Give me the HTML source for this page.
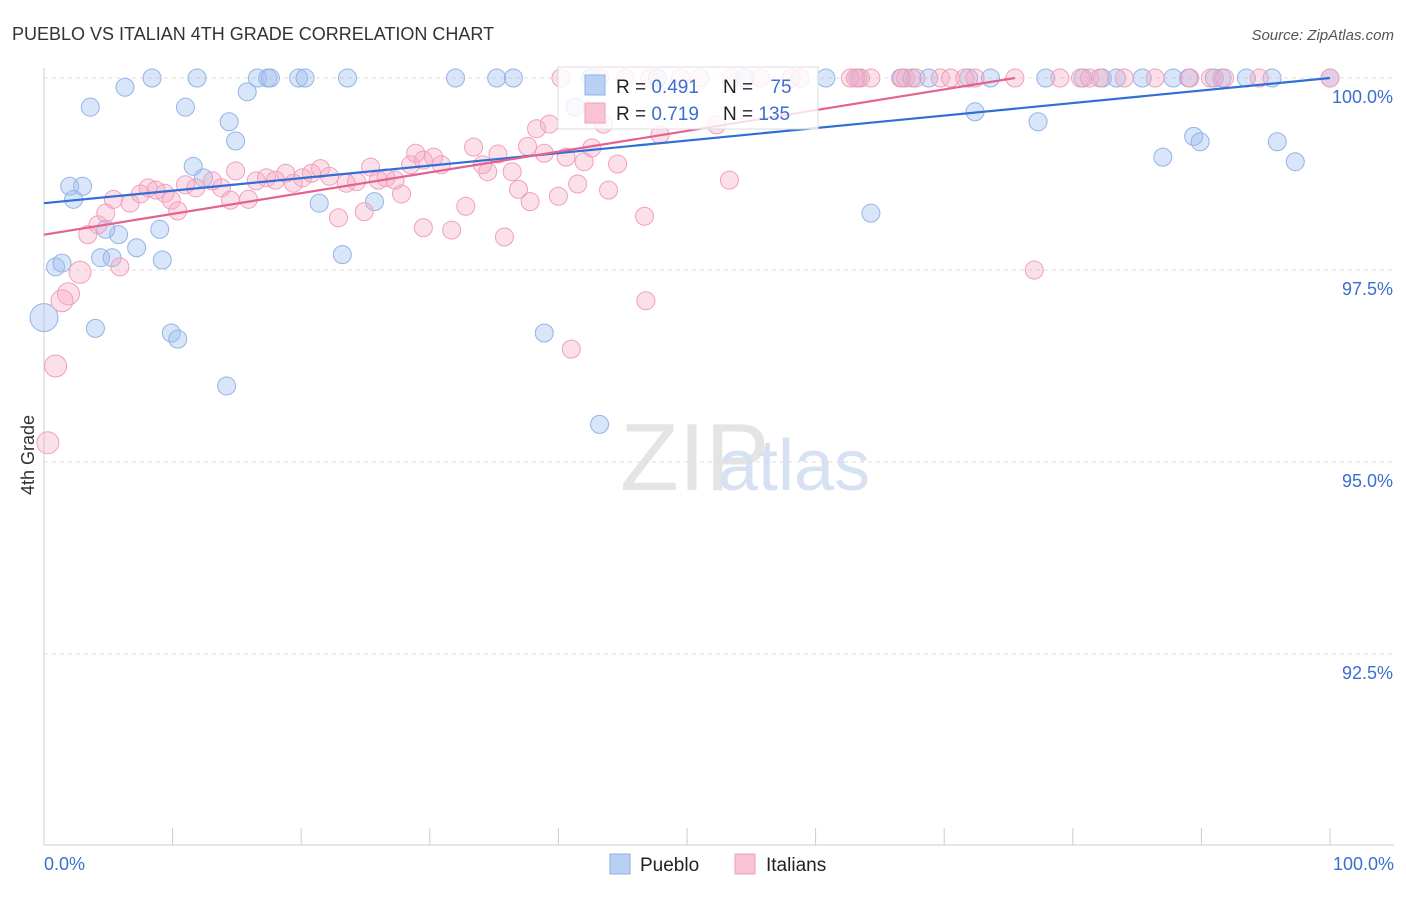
<!DOCTYPE html>
<html><head><meta charset="utf-8"><style>
body{margin:0;background:#fff;font-family:"Liberation Sans",sans-serif}
svg text{font-family:"Liberation Sans",sans-serif}
</style></head><body>
<svg id="c" width="1406" height="892" xmlns="http://www.w3.org/2000/svg">
<text x="12" y="40" font-size="18" fill="#333">PUEBLO VS ITALIAN 4TH GRADE CORRELATION CHART</text>
<text x="1394" y="40" font-size="15" fill="#555" font-style="italic" text-anchor="end">Source: ZipAtlas.com</text>
<text x="620" y="490" font-size="96" fill="#e4e4e4" font-family="Liberation Serif">ZIP</text>
<text x="718" y="490" font-size="72" fill="#d6e2f4">atlas</text>
<text transform="translate(34,455) rotate(-90)" font-size="18" fill="#333" text-anchor="middle">4th Grade</text>
<g id="grid"></g><g id="ticks"></g><g id="pts"></g><g id="lines"></g>
<g>
<rect x="558" y="67" width="260" height="62" fill="#fff" fill-opacity="0.8" stroke="#ddd"/>
<rect x="585" y="75" width="20" height="20" fill="#b8d0f4" stroke="#8fb0e4"/>
<rect x="585" y="103" width="20" height="20" fill="#f9c3d4" stroke="#efa0ba"/>
<text x="616" y="93" font-size="19" fill="#222">R = <tspan fill="#3a6fd0">0.491</tspan></text>
<text x="723" y="93" font-size="19" fill="#222">N = <tspan fill="#3a6fd0" dx="12">75</tspan></text>
<text x="616" y="120" font-size="19" fill="#222">R = <tspan fill="#3a6fd0">0.719</tspan></text>
<text x="723" y="120" font-size="19" fill="#222">N = <tspan fill="#3a6fd0">135</tspan></text>
</g>
<g>
<rect x="610" y="854" width="20" height="20" fill="#b8d0f4" stroke="#8fb0e4"/>
<text x="640" y="871" font-size="19" fill="#222">Pueblo</text>
<rect x="735" y="854" width="20" height="20" fill="#f9c3d4" stroke="#efa0ba"/>
<text x="766" y="871" font-size="19" fill="#222">Italians</text>
</g>
</svg>
<script>
const yTicks=[100,97.5,95,92.5];
const yTickLabels=["100.0%","97.5%","95.0%","92.5%"];
const xTickLabels=["0.0%","100.0%"];
const puebloX=[2.0,2.3,3.0,3.6,6.3,8.4,11.0,11.9,14.4,14.9,15.8,16.6,17.4,17.6,19.8,20.3,23.6,32.0,35.2,36.5,41.3,11.6,12.4,9.0,7.2,5.8,4.8,4.4,5.3,9.2,0.9,1.4,4.0,9.9,10.4,14.2,21.4,23.2,25.7,38.9,43.2,0,42.5,60.8,63.3,66.7,67.5,68.8,71.9,73.6,77.9,80.8,82.3,83.4,85.4,87.8,89.0,91.0,91.6,93.5,95.5,100,72.4,77.3,64.3,87.0,89.4,89.9,95.9,97.3,47.7,54.5];
const puebloY=[98.59,98.42,98.59,99.62,99.88,100,99.62,100,99.43,99.18,99.82,100,100,100,100,100,100,100,100,100,99.62,98.85,98.70,98.03,97.79,97.96,98.03,97.66,97.66,97.63,97.54,97.59,96.74,96.68,96.60,95.99,98.37,97.70,98.39,96.68,95.49,96.88,100,100,100,100,100,100,100,100,100,100,100,100,100,100,100,100,100,100,100,100,99.56,99.43,98.24,98.97,99.24,99.17,99.17,98.91,100,100];
const italX=[40.2,43.2,45.2,47.1,49.5,51,53.4,55.7,58.1,58.8,62.7,63.1,63.5,64.3,66.6,67,67.8,69.7,70.5,71.6,72.4,75.5,79,80.6,81.3,82.1,84,86.4,89.1,90.7,91.8,94.5,100,
0.3,0.9,1.9,1.4,2.8,5.9,3.4,4.2,4.8,5.4,6.7,7.5,8.1,8.7,9.4,9.9,10.4,11.0,11.8,13.1,13.8,14.5,14.9,15.9,16.5,17.3,18.0,18.8,19.4,20.1,20.8,21.5,22.2,22.9,23.5,24.3,24.9,25.4,26.0,26.6,27.3,27.8,28.5,28.9,29.5,30.3,30.9,29.5,31.7,32.8,33.4,34.1,34.5,35.3,36.4,35.8,36.9,37.6,38.3,37.8,38.9,39.3,40.0,40.6,41.0,41.5,42.0,42.6,43.5,43.9,44.6,46.7,46.8,47.9,52.3,53.3,77.0];
const italY=[100,100,100,100,100,100,100,100,100,100,100,100,100,100,100,100,100,100,100,100,100,100,100,100,100,100,100,100,100,100,100,100,100,
95.25,96.25,97.19,97.1,97.47,97.54,97.96,98.09,98.24,98.42,98.37,98.49,98.57,98.54,98.5,98.41,98.27,98.61,98.57,98.66,98.57,98.41,98.79,98.42,98.66,98.7,98.67,98.76,98.63,98.7,98.76,98.82,98.72,98.18,98.63,98.65,98.26,98.84,98.67,98.7,98.67,98.49,98.87,99.02,98.93,98.97,98.87,98.05,98.02,98.33,99.1,98.87,98.78,99.01,98.78,97.93,98.55,99.11,99.34,98.39,99.02,99.4,98.46,98.97,96.47,98.62,98.91,99.09,99.4,98.54,98.88,98.2,97.1,99.26,99.39,98.67,97.5];
const puebloTrend=[98.37,100];   // y at x=0, x=100
const italTrend=[97.96,100,75.5]; // y at x=0, y at end, end x
const sx=v=>44+v*12.86;
const sy=v=>78+(100-v)*76.8;
const NS="http://www.w3.org/2000/svg";
function mk(tag,attrs,parent){const e=document.createElementNS(NS,tag);for(const k in attrs)e.setAttribute(k,attrs[k]);document.getElementById(parent).appendChild(e);return e;}
yTicks.forEach((t,i)=>{
 const l=mk('line',{x1:44,x2:1394,y1:sy(t),y2:sy(t),stroke:'#ddd','stroke-dasharray':'4,4'},'grid');
 
 
 const tx=mk('text',{x:1393,y:sy(t)+25,'font-size':18,fill:'#3a6fd0','text-anchor':'end'},'grid');
 tx.textContent=yTickLabels[i];
 
 
});
const ax=mk('line',{x1:44,x2:44,y1:68,y2:845,stroke:'#ccc'},'ticks');


const bx=mk('line',{x1:44,x2:1394,y1:845,y2:845,stroke:'#ccc'},'ticks');


for(let i=0;i<=10;i++){
 const t=mk('line',{x1:sx(i*10),x2:sx(i*10),y1:828,y2:845,stroke:'#ccc'},'ticks');
 
 
}
[[0,'start',44],[1,'end',1394]].forEach(([i,a,x])=>{
 const t=mk('text',{x:x,y:870,'font-size':18,fill:'#3a6fd0','text-anchor':a},'ticks');
 t.textContent=xTickLabels[i];
 
 
});
puebloX.forEach((x,i)=>{
 const c=mk('circle',{cx:sx(x),cy:sy(puebloY[i]),r:x===0?14:9,fill:'rgba(160,190,240,0.4)',stroke:'#93b4e6','stroke-width':1},'pts');
 
 
});
italX.forEach((x,i)=>{
 const c=mk('circle',{cx:sx(x),cy:sy(italY[i]),r:x<3?11:9,fill:'rgba(245,165,192,0.35)',stroke:'#f0a0bc','stroke-width':1},'pts');
 
 
});
const pl=mk('line',{x1:sx(0),y1:sy(puebloTrend[0]),x2:sx(100),y2:sy(puebloTrend[1]),stroke:'#2f6fd6','stroke-width':2.2},'lines');


const il=mk('line',{x1:sx(0),y1:sy(italTrend[0]),x2:sx(italTrend[2]),y2:sy(italTrend[1]),stroke:'#e4628f','stroke-width':2.2},'lines');


</script>
</body></html>
